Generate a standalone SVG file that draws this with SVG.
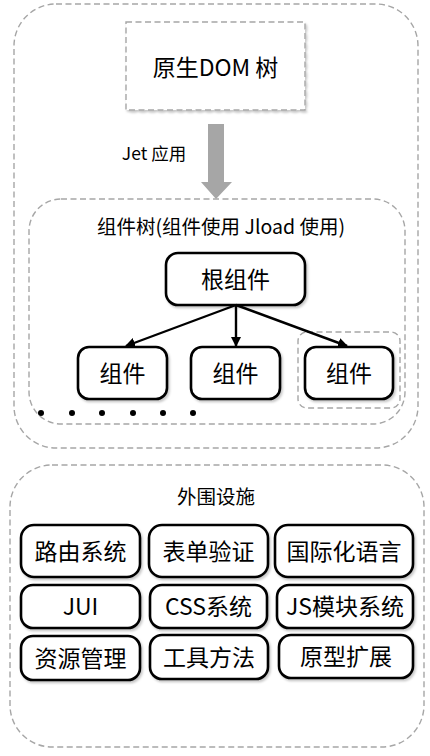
<svg xmlns="http://www.w3.org/2000/svg" width="430" height="756" viewBox="0 0 430 756">
<defs>
<filter id="sh" x="-10%" y="-10%" width="130%" height="140%">
<feDropShadow dx="1.5" dy="2" stdDeviation="1.2" flood-color="#000" flood-opacity="0.22"/>
</filter>
<marker id="ah" viewBox="0 0 10 10" refX="9" refY="5" markerWidth="4.2" markerHeight="4.2" orient="auto" markerUnits="strokeWidth">
<path d="M0,0 L10,5 L0,10 Z" fill="#000"/>
</marker>
<style>
.dash{fill:none;stroke:#a6a6a6;stroke-width:1.4;stroke-dasharray:6 3.5}
.node{fill:#fff;stroke:#000;stroke-width:2.6}
.t{font-family:"Noto Sans CJK SC","Noto Sans",sans-serif;fill:#000;text-anchor:middle;dominant-baseline:central}
.big{font-size:23px}
.mid{font-size:19.5px}
.edge{stroke:#000;stroke-width:2.4;fill:none;marker-end:url(#ah)}
</style>
</defs>
<rect width="430" height="756" fill="#fff"/>

<g id="outer-top"><rect class="dash" x="14" y="4" width="404" height="444" rx="42"/></g>

<g id="dom-tree">
<rect x="126" y="22" width="179" height="88" fill="#fff" stroke="#a6a6a6" stroke-width="1.4" stroke-dasharray="6 3.5" filter="url(#sh)"/>
<text class="t big" x="215.5" y="65.5">原生DOM 树</text>
</g>

<g id="jet-arrow">
<path d="M208,124 H224 V182 H232 L216,199 L201,182 H208 Z" fill="#a6a6a6"/>
<text class="t" style="font-size:17.5px" x="154" y="152">Jet 应用</text>
</g>

<g id="component-tree">
<rect class="dash" x="29" y="199" width="376" height="225" rx="32"/>
<text class="t mid" x="221" y="225.5">组件树(组件使用 Jload 使用)</text>
</g>

<g id="root">
<rect class="node" x="166" y="253" width="139" height="52" rx="12" filter="url(#sh)"/>
<text class="t big" x="235.5" y="277.5">根组件</text>
</g>

<g id="child1">
<rect class="node" x="78" y="347" width="89" height="52" rx="11" filter="url(#sh)"/>
<text class="t big" x="122.5" y="371.5">组件</text>
</g>
<g id="child2">
<rect class="node" x="191" y="347" width="89" height="52" rx="11" filter="url(#sh)"/>
<text class="t big" x="235.5" y="371.5">组件</text>
</g>
<g id="child3">
<rect class="dash" x="298" y="332" width="102" height="76" rx="9"/>
<rect class="node" x="305" y="347" width="88" height="52" rx="11" filter="url(#sh)"/>
<text class="t big" x="349" y="371.5">组件</text>
</g>

<g id="connectors">
<line class="edge" x1="236" y1="305" x2="126" y2="346"/>
<line class="edge" x1="236" y1="305" x2="236" y2="346"/>
<line class="edge" x1="236" y1="305" x2="347" y2="346"/>
</g>

<g id="dots" fill="#000">
<circle cx="41" cy="413" r="3"/>
<circle cx="72" cy="413" r="3"/>
<circle cx="102" cy="413" r="3"/>
<circle cx="133" cy="413" r="3"/>
<circle cx="163" cy="413" r="3"/>
<circle cx="193" cy="413" r="3"/>
</g>

<g id="infrastructure">
<rect class="dash" x="10" y="465" width="414" height="282" rx="42"/>
<text class="t mid" x="216" y="495">外围设施</text>
</g>

<g id="routing"><rect class="node" x="21" y="525" width="119" height="52" rx="13" filter="url(#sh)"/><text class="t big" x="80.5" y="549.5">路由系统</text></g>
<g id="form-validation"><rect class="node" x="149" y="525" width="119" height="52" rx="13" filter="url(#sh)"/><text class="t big" x="208.5" y="549.5">表单验证</text></g>
<g id="i18n"><rect class="node" x="275" y="525" width="138" height="52" rx="13" filter="url(#sh)"/><text class="t big" x="344" y="549.5">国际化语言</text></g>

<g id="jui"><rect class="node" x="21" y="585" width="119" height="43" rx="12" filter="url(#sh)"/><text class="t big" x="80.5" y="604.5">JUI</text></g>
<g id="css"><rect class="node" x="150" y="585" width="117" height="43" rx="12" filter="url(#sh)"/><text class="t big" x="208.5" y="604.5">CSS系统</text></g>
<g id="js-module"><rect class="node" x="277" y="585" width="136" height="43" rx="12" filter="url(#sh)"/><text class="t big" x="345" y="604.5">JS模块系统</text></g>

<g id="resource"><rect class="node" x="21" y="636" width="119" height="44" rx="12" filter="url(#sh)"/><text class="t big" x="80.5" y="656.5">资源管理</text></g>
<g id="tools"><rect class="node" x="150" y="635" width="118" height="44" rx="12" filter="url(#sh)"/><text class="t big" x="209" y="655.5">工具方法</text></g>
<g id="prototype"><rect class="node" x="279" y="635" width="134" height="43" rx="12" filter="url(#sh)"/><text class="t big" x="346" y="654.5">原型扩展</text></g>
</svg>
